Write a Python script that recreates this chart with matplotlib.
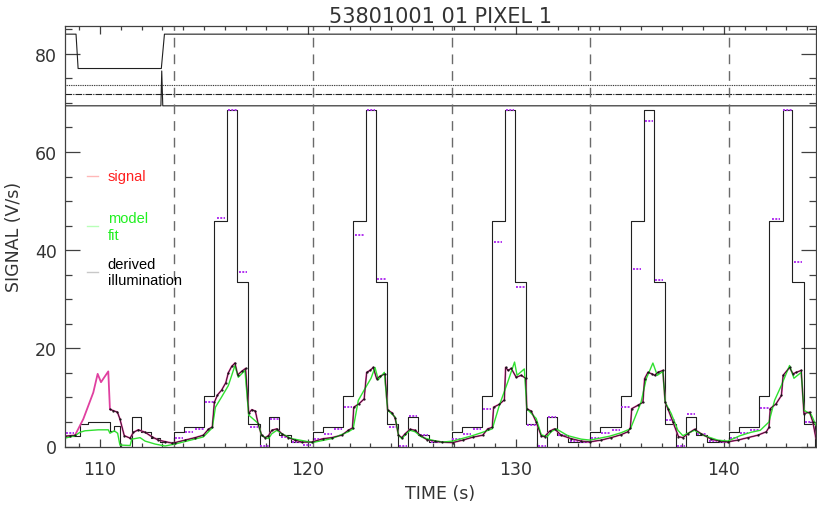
import numpy as np
import matplotlib
matplotlib.use("Agg")
import matplotlib.pyplot as plt
from matplotlib.ticker import MultipleLocator
from matplotlib.lines import Line2D

# signal (V/s)
sig_t = [108.32, 108.55, 108.80, 108.96, 109.20, 109.44, 109.68, 109.89, 110.05, 110.21, 110.40, 110.48,
         110.64, 110.84, 110.96, 111.17, 111.45, 111.61, 111.85, 112.17, 112.49, 112.81, 113.13, 113.45,
         113.61, 114.09, 114.57, 114.97, 115.21, 115.40, 115.50, 115.65, 115.85, 116.05, 116.17, 116.33,
         116.49, 116.62, 116.81, 117.00, 117.15, 117.30, 117.47, 117.61, 117.77, 117.94, 118.10, 118.26,
         118.50, 118.74, 119.06, 119.38, 119.70,
         120.18, 120.74, 121.14, 121.62, 121.94, 122.14, 122.20, 122.45, 122.70, 122.82, 122.98, 123.14,
         123.30, 123.46, 123.70, 123.83, 124.03, 124.19, 124.35, 124.51, 124.67, 124.91, 125.15, 125.39,
         125.71, 126.11,
         126.45, 126.96, 127.44, 127.92, 128.40, 128.64, 128.86, 128.92, 129.20, 129.44, 129.50, 129.62,
         129.77, 130.01, 130.25, 130.46, 130.52, 130.73, 130.97, 131.21, 131.37, 131.61, 131.85, 132.17,
         132.65, 133.13,
         133.56, 134.09, 134.57, 135.05, 135.37, 135.50, 135.56, 135.86, 136.10, 136.18, 136.34, 136.53,
         136.66, 136.82, 137.06, 137.17, 137.30, 137.54, 137.81, 138.02, 138.26, 138.58, 138.90, 139.38,
         139.78,
         140.18, 140.66, 141.14, 141.62, 142.03, 142.16, 142.22, 142.50, 142.76, 142.84, 143.15, 143.31,
         143.47, 143.71, 143.84, 144.11, 144.27, 144.42]
sig_v = [2.1, 2.2, 2.3, 3.6, 5.6, 8.3, 11.0, 14.8, 13.1, 14.1, 15.3, 7.6,
         7.3, 7.0, 5.6, 2.2, 1.7, 2.9, 3.4, 2.9, 2.0, 1.3, 1.0, 0.7,
         0.8, 1.3, 1.8, 2.3, 3.5, 4.0, 9.0, 10.5, 11.5, 13.0, 15.0, 16.3,
         17.0, 14.6, 15.3, 15.9, 6.8, 7.5, 7.2, 4.5, 2.3, 1.8, 2.2, 3.3,
         3.6, 2.6, 1.8, 1.3, 0.9,
         0.9, 1.6, 1.8, 2.3, 3.3, 3.8, 8.0, 8.7, 9.7, 15.1, 15.5, 16.1,
         13.8, 14.3, 14.8, 7.4, 6.9, 5.8, 2.3, 1.8, 2.6, 3.5, 3.3, 2.3,
         1.4, 1.1,
         0.9, 0.8, 1.3, 1.9, 2.3, 3.6, 3.9, 8.0, 8.6, 9.5, 16.1, 15.5,
         15.9, 14.1, 14.5, 13.9, 7.7, 7.2, 5.0, 2.2, 2.0, 3.1, 3.6, 2.3,
         1.6, 1.1,
         0.95, 1.3, 1.8, 2.4, 3.0, 3.8, 7.7, 8.4, 9.0, 13.8, 15.1, 14.8,
         14.5, 15.1, 15.5, 9.0, 7.7, 5.0, 2.0, 1.8, 2.6, 3.5, 2.6, 1.5,
         1.1,
         0.95, 1.3, 1.8, 2.3, 3.0, 3.9, 7.7, 8.7, 10.4, 14.5, 16.1, 14.8,
         15.1, 15.5, 6.7, 7.0, 5.0, 1.6]

# model fit
fit_t = [108.32, 108.80, 109.04, 109.28, 109.92, 110.40, 110.48, 110.69, 110.85, 110.96, 111.45, 111.53,
         111.93, 112.17, 112.65, 113.13,
         113.61, 114.97, 115.40, 115.55, 115.85, 116.17, 116.49, 116.65, 116.97, 117.15, 117.61, 117.77,
         118.10, 118.26, 118.50, 118.74, 119.22, 119.86,
         120.21, 121.14, 121.94, 122.17, 122.42, 122.74, 123.03, 123.22, 123.38, 123.67, 123.83, 124.19,
         124.35, 124.51, 124.75, 124.91, 125.15, 125.47, 125.95,
         126.45, 126.96, 127.90, 128.40, 128.86, 129.20, 129.60, 129.93, 130.05, 130.40, 130.52, 130.97,
         131.21, 131.50, 131.69, 131.93, 132.49, 133.13,
         133.56, 134.50, 135.05, 135.50, 136.01, 136.26, 136.58, 136.79, 137.06, 137.17, 137.46, 137.78,
         138.02, 138.26, 138.58, 139.06, 139.70,
         140.18, 140.77, 141.30, 141.74, 142.16, 142.43, 142.75, 143.15, 143.36, 143.71, 143.84, 144.19,
         144.42]
fit_v = [1.7, 2.2, 2.9, 3.2, 3.4, 3.4, 2.7, 3.2, 2.7, 0.3, 0.2, 1.5,
         1.8, 1.1, 0.5, 0.1,
         0.5, 1.95, 3.8, 8.0, 10.1, 12.4, 16.5, 14.1, 15.5, 6.4, 4.7, 2.2,
         1.6, 2.6, 3.3, 2.6, 1.6, 1.1,
         0.8, 1.6, 3.0, 3.6, 9.4, 11.8, 13.9, 16.1, 13.6, 15.1, 7.4, 6.0,
         2.3, 1.6, 2.7, 3.3, 3.0, 1.9, 1.3,
         0.9, 1.1, 2.2, 2.9, 3.6, 8.4, 13.1, 17.2, 14.5, 15.8, 7.7, 5.7,
         2.4, 2.0, 3.0, 3.6, 2.2, 1.5,
         1.3, 2.1, 2.8, 3.6, 9.0, 13.8, 17.0, 14.5, 15.3, 9.0, 6.7, 3.3,
         2.2, 2.7, 3.3, 2.2, 1.3,
         1.1, 2.2, 2.9, 3.3, 5.0, 9.4, 12.4, 16.5, 13.9, 15.1, 7.4, 6.5,
         4.3]

# derived illumination, step edges and levels
illum_t = [108.32, 109.04, 109.44, 110.48, 110.68, 110.97, 111.55, 111.95, 112.43, 112.91,
           113.56, 114.04, 115.02, 115.50, 116.13, 116.61, 117.14, 117.67, 118.15, 118.63, 119.17,
           120.23, 120.71, 121.69, 122.17, 122.80, 123.28, 123.81, 124.34, 124.82, 125.30, 125.84,
           126.90, 127.38, 128.36, 128.84, 129.47, 129.95, 130.48, 131.01, 131.49, 131.97, 132.51,
           133.57, 134.05, 135.03, 135.51, 136.14, 136.62, 137.15, 137.68, 138.16, 138.64, 139.18,
           140.24, 140.72, 141.70, 142.18, 142.81, 143.29, 143.82, 144.35, 144.42]
illum_v = [2.2, 4.6, 5.0, 3.2, 4.2, 0.0, 6.1, 3.0, 1.8, 1.0,
           2.9, 3.9, 10.3, 45.9, 68.5, 33.6, 4.5, 0.0, 6.1, 2.3, 1.0,
           2.9, 3.9, 10.3, 45.9, 68.5, 33.6, 4.5, 0.0, 6.1, 2.3, 1.0,
           2.9, 3.9, 10.3, 45.9, 68.5, 33.6, 4.5, 0.0, 6.1, 2.3, 1.0,
           2.9, 3.9, 10.3, 45.9, 68.5, 33.6, 4.5, 0.0, 6.1, 2.3, 1.0,
           2.9, 3.9, 10.3, 45.9, 68.5, 33.6, 4.5, 0.0, 0.0]

# per-frame estimates (dotted purple bars): centre time and level
frame_t = [108.55,
           113.80, 114.29, 114.78, 115.26, 115.81, 116.37, 116.87, 117.41, 117.91, 118.39, 118.90, 119.45, 119.95,
           120.47, 120.96, 121.45, 121.93, 122.48, 123.04, 123.54, 124.08, 124.58, 125.06, 125.57, 126.12, 126.62,
           127.14, 127.63, 128.12, 128.60, 129.15, 129.71, 130.21, 130.75, 131.25, 131.73, 132.24, 132.79, 133.29,
           133.81, 134.30, 134.79, 135.27, 135.82, 136.38, 136.88, 137.42, 137.92, 138.40, 138.91, 139.46, 139.96,
           140.48, 140.97, 141.46, 141.94, 142.49, 143.05, 143.55, 144.09]
frame_v = [2.8,
           1.7, 2.9, 3.6, 9.0, 46.6, 68.6, 35.5, 3.9, 0.15, 5.7, 2.0, 0.9, 0.4,
           1.6, 2.6, 3.6, 8.0, 43.1, 68.6, 34.2, 4.0, 0.15, 6.3, 2.3, 1.0, 1.0,
           1.6, 2.6, 3.5, 7.7, 41.7, 68.6, 32.5, 4.4, 0.15, 6.0, 2.4, 1.2, 1.0,
           1.7, 2.7, 3.4, 8.0, 36.2, 66.4, 33.9, 5.3, 0.15, 6.6, 2.6, 1.2, 1.0,
           1.7, 2.7, 3.4, 7.8, 46.3, 68.6, 37.6, 5.0]

# status traces in the top strip
state_t = [108.32, 108.85, 108.95, 112.95, 113.10, 144.42]
state_v = [84.0, 84.0, 77.0, 77.0, 84.0, 84.0]
base_t = [108.32, 112.93, 112.97, 113.02, 144.42]
base_v = [69.4, 69.4, 76.5, 69.4, 69.4]
dot_level = 73.6
dashdot_level = 71.9

cycle_starts = [113.56, 120.23, 126.90, 133.57, 140.24]

fig = plt.figure(figsize=(8.17, 5.06), dpi=100)
ax = fig.add_axes([65 / 817, 1 - 447.5 / 506, 751 / 817, 420.2 / 506])

ink = '#404040'

# top strip
ax.plot(state_t, state_v, color='#202020', lw=0.8)
ax.plot(base_t, base_v, color='#202020', lw=0.8)
ax.axhline(dot_level, color='#202020', lw=0.8, linestyle=(0, (0.8, 0.8)))
ax.axhline(dashdot_level, color='#202020', lw=0.8, linestyle=(0, (6, 1, 1, 1)))

for s in cycle_starts:
    ax.axvline(s, color='#6a6a6a', lw=1.0, dashes=(7, 5))

# derived illumination
ax.step(illum_t, illum_v, where='post', color='#202020', lw=0.8)

# per-frame dotted estimates
for t, v in zip(frame_t, frame_v):
    ax.plot([t - 0.2, t + 0.2], [v, v], color='#b030f0', lw=1.4, linestyle=(0, (1, 0.7)))

# signal, model fit
sig_t = np.array(sig_t)
sig_v = np.array(sig_v)
ax.plot(sig_t, sig_v, color='#e040a0', lw=1.3)
ax.plot(fit_t, fit_v, color='#30e030', lw=1.0)
dark = np.where((sig_t > 108.9) & (sig_t < 110.45), np.nan, sig_v)
ax.plot(sig_t, dark, color='#101010', lw=0.5, marker='.', ms=1.2)

ax.set_xlim(108.32, 144.42)
ax.set_ylim(0, 85.6)
ax.xaxis.set_major_locator(MultipleLocator(10))
ax.xaxis.set_minor_locator(MultipleLocator(1))
ax.yaxis.set_major_locator(MultipleLocator(20))
ax.yaxis.set_minor_locator(MultipleLocator(5))
ax.tick_params(axis='both', which='both', direction='in', top=True, right=True, color=ink,
               labelcolor='#333333', labelsize=12.5, width=0.9)
ax.tick_params(axis='y', which='major', length=10.8, pad=6)
ax.tick_params(axis='y', which='minor', length=5)
ax.tick_params(axis='x', which='major', length=5.5, pad=10)
ax.tick_params(axis='x', which='minor', length=2.8)
for sp in ax.spines.values():
    sp.set_color(ink)
    sp.set_linewidth(0.9)

ax.set_title('53801001 01 PIXEL 1', fontsize=15, color='#333333', pad=1)
ax.set_xlabel('TIME (s)', fontsize=12.5, color='#333333', labelpad=4)
ax.set_ylabel('SIGNAL (V/s)', fontsize=12.5, color='#333333', labelpad=8)

# hand-made legend
leg = [('signal', '#ff2020', '#ffb8b8', 0.6445),
       ('model\nfit', '#20f020', '#b8ffb8', 0.524),
       ('derived\nillumination', '#000000', '#c8c8c8', 0.415)]
for label, tcol, lcol, y in leg:
    ax.add_line(Line2D([0.029, 0.044], [y, y], transform=ax.transAxes, color=lcol, lw=1.0))
    ax.text(0.057, y, label, transform=ax.transAxes, color=tcol, fontsize=10.5,
            family='Liberation Sans', va='center', ha='left', linespacing=1.25)

fig.savefig('out.png', dpi=100)
